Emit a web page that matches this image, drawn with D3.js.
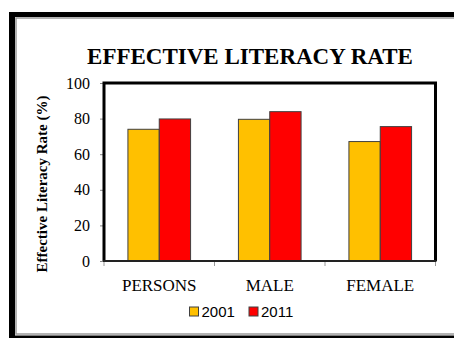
<!DOCTYPE html>
<html>
<head>
<meta charset="utf-8">
<script src="https://cdn.jsdelivr.net/npm/d3@7"></script>
<style>
  html, body { margin: 0; padding: 0; background: #fff; overflow: hidden; }
  svg { display: block; }
  text { font-family: "Liberation Serif", serif; }
  .legend text { font-family: "Liberation Sans", sans-serif; }
</style>
</head>
<body>
<svg width="454" height="338"></svg>
<script>
const categories = ["PERSONS", "MALE", "FEMALE"];
const years = ["2001", "2011"];
const rate2001 = [74.0, 79.6, 67.1];
const rate2011 = [79.8, 83.9, 75.5];
const yTicks = [0, 20, 40, 60, 80, 100];
const colors = ["#FFC000", "#FF0000"];

const svg = d3.select("svg");
const plot = {left: 104, right: 435.5, top: 83, bottom: 261};

// outer frame: black top, left and bottom edges, thin grey inner line
svg.append("rect").attr("x", 9).attr("y", 12).attr("width", 460).attr("height", 5).attr("fill", "#000");
svg.append("rect").attr("x", 9).attr("y", 12).attr("width", 6).attr("height", 326).attr("fill", "#000");
svg.append("rect").attr("x", 9).attr("y", 335.5).attr("width", 460).attr("height", 3).attr("fill", "#000");
svg.append("path")
    .attr("d", "M460,18H16V334H460")
    .attr("fill", "none").attr("stroke", "#9a9a9a").attr("stroke-width", 1.5);

svg.append("text")
    .attr("x", 250).attr("y", 64)
    .attr("text-anchor", "middle")
    .attr("font-weight", "bold")
    .attr("font-size", 23)
    .text("EFFECTIVE LITERACY RATE");

const x0 = d3.scaleBand().domain(categories)
    .range([plot.left, plot.right])
    .paddingInner(0.433).paddingOuter(0.2165);
const x1 = d3.scaleBand().domain(years).range([0, x0.bandwidth()]);
const y = d3.scaleLinear().domain([0, 100]).range([plot.bottom, plot.top]);

const rows = categories.map((c, i) => ({cat: c, vals: [rate2001[i], rate2011[i]]}));

// y ticks and labels
const yAxis = svg.append("g").attr("transform", `translate(${plot.left},0)`)
    .call(d3.axisLeft(y).tickValues(yTicks).tickSize(4).tickPadding(10));
yAxis.attr("font-family", null).attr("font-size", 16);
yAxis.select(".domain").remove();
yAxis.selectAll("line").attr("stroke", "#888");
yAxis.selectAll("text").attr("fill", "#000");

// bars
svg.append("g").selectAll("g")
    .data(rows)
    .join("g")
    .attr("transform", d => `translate(${x0(d.cat)},0)`)
    .selectAll("rect")
    .data(d => d.vals.map((v, j) => ({year: years[j], v, j})))
    .join("rect")
    .attr("x", d => x1(d.year))
    .attr("y", d => y(d.v))
    .attr("width", x1.bandwidth())
    .attr("height", d => y(0) - y(d.v))
    .attr("fill", d => colors[d.j])
    .attr("stroke", "#404040")
    .attr("stroke-width", 1);

// plot border (left, top, right)
svg.append("path")
    .attr("d", `M${plot.left},${plot.bottom}V${plot.top}H${plot.right}V${plot.bottom}`)
    .attr("fill", "none").attr("stroke", "#000").attr("stroke-width", 3);

// category axis
const step = x0.step();
const bounds = d3.range(categories.length + 1).map(i => plot.left + i * step);
svg.append("g").selectAll("line").data(bounds).join("line")
    .attr("x1", d => d).attr("x2", d => d)
    .attr("y1", plot.bottom).attr("y2", plot.bottom + 5)
    .attr("stroke", "#999");
svg.append("line")
    .attr("x1", plot.left - 1).attr("x2", plot.right + 1)
    .attr("y1", plot.bottom).attr("y2", plot.bottom)
    .attr("stroke", "#222").attr("stroke-width", 2);

svg.append("g").selectAll("text").data(categories).join("text")
    .attr("x", d => x0(d) + x0.bandwidth() / 2)
    .attr("y", 291)
    .attr("text-anchor", "middle")
    .attr("font-size", 17)
    .text(d => d);

// y axis title
svg.append("text")
    .attr("transform", "translate(47,184) rotate(-90)")
    .attr("text-anchor", "middle")
    .attr("font-weight", "bold")
    .attr("font-size", 15)
    .text("Effective Literacy Rate (%)");

// legend
const legendX = [189.5, 249];
const legend = svg.append("g").attr("class", "legend").selectAll("g").data(years).join("g")
    .attr("transform", (d, i) => `translate(${legendX[i]},307)`);
legend.append("rect")
    .attr("width", 9).attr("height", 9)
    .attr("fill", (d, i) => colors[i])
    .attr("stroke", "#404040").attr("stroke-width", 1);
legend.append("text")
    .attr("x", 12).attr("y", 9.5)
    .attr("font-size", 15)
    .text(d => d);
</script>
</body>
</html>
